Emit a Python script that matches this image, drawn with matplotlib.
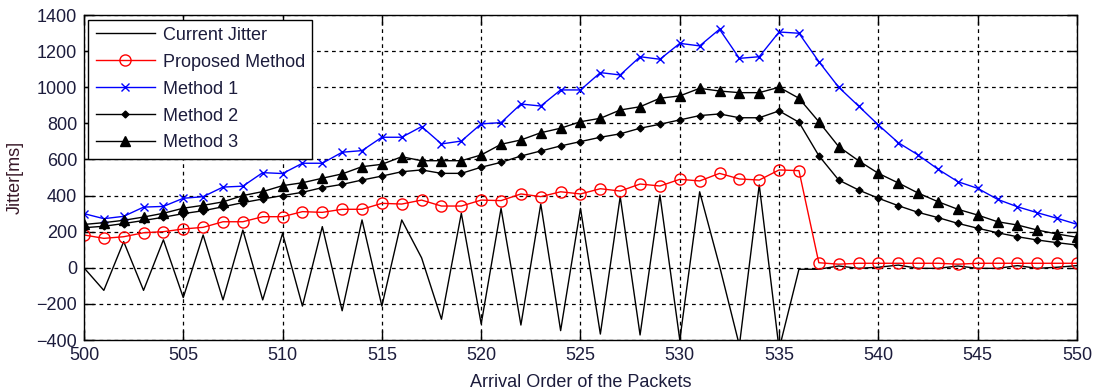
import numpy as np
import matplotlib.pyplot as plt

plt.rcParams["font.family"] = ["Liberation Sans", "DejaVu Sans"]

packets = np.arange(500, 551)

current_jitter = [0, -125, 145, -125, 155, -165, 182, -178, 209, -178,
                  190, -212, 228, -238, 265, -212, 265, 55, -285, 302,
                  -311, 329, -317, 353, -348, 329, -367, 394, -372, 403,
                  -400, 421, 10, -430, 459, -450, -8, -8, 10, -3,
                  3, 15, -3, -3, 10, -3, -3, 12, -3, 3, 12]

proposed = [182, 163, 172, 194, 200, 215, 224, 255, 255, 283,
            283, 311, 307, 324, 324, 357, 353, 375, 342, 342,
            375, 372, 409, 394, 421, 409, 438, 425, 464, 453,
            490, 481, 523, 492, 486, 542, 538, 28, 20, 25,
            25, 25, 25, 25, 20, 25, 25, 25, 25, 25, 25]

method1 = [300, 272, 285, 336, 340, 385, 394, 447, 452, 527,
           522, 579, 579, 640, 649, 723, 723, 782, 686, 702,
           797, 804, 907, 896, 985, 985, 1081, 1068, 1169, 1155,
           1243, 1229, 1321, 1160, 1169, 1306, 1299, 1142, 1000, 896,
           791, 693, 625, 546, 477, 440, 379, 338, 305, 274, 241]

method2 = [222, 230, 245, 262, 280, 300, 316, 338, 361, 381,
           400, 418, 444, 462, 486, 508, 532, 542, 523, 523,
           557, 584, 619, 647, 675, 699, 723, 742, 773, 795,
           819, 843, 852, 831, 831, 869, 806, 621, 486, 431,
           385, 344, 307, 278, 246, 219, 194, 172, 154, 139, 126]

method3 = [240, 250, 263, 281, 302, 330, 346, 365, 400, 422,
           455, 471, 496, 520, 560, 573, 615, 593, 593, 593,
           625, 684, 708, 748, 773, 809, 828, 874, 892, 939,
           952, 994, 979, 970, 970, 1000, 939, 809, 671, 593,
           523, 470, 414, 366, 324, 292, 255, 237, 209, 187, 169]

fig = plt.figure(figsize=(10.99, 3.91), dpi=100)
ax = fig.add_axes([0.0764, 0.1304, 0.9036, 0.8312])

ax.plot(packets, current_jitter, "-", color="black", lw=1, label="Current Jitter")
ax.plot(packets, proposed, "-o", color="red", lw=1, ms=8, mfc="none",
        mec="red", mew=1, label="Proposed Method")
ax.plot(packets, method1, "-x", color="blue", lw=1, ms=6, mew=1, label="Method 1")
ax.plot(packets, method2, "-D", color="black", lw=1, ms=3.5, label="Method 2")
ax.plot(packets, method3, "-^", color="black", lw=1, ms=7, label="Method 3")

ax.set_xlim(500, 550)
ax.set_ylim(-400, 1400)
ax.set_xticks(np.arange(500, 551, 5))
ax.set_yticks(np.arange(-400, 1401, 200))
ax.grid(True, color="black", ls=(0, (3, 3)), lw=0.9)
ax.tick_params(direction="in", length=7, width=1, top=True, right=True,
               labelsize=13, labelcolor="#1c1c3c", pad=5)
for s in ax.spines.values():
    s.set_linewidth(1)

ax.set_xlabel("Arrival Order of the Packets", fontsize=13, color="#1c1c3c", labelpad=7)
ax.set_ylabel("Jitter[ms]", fontsize=13, color="#3a1a2a", labelpad=9)

leg = ax.legend(loc="upper left", fontsize=13, fancybox=False, framealpha=1,
                edgecolor="black", borderaxespad=0.25, handlelength=3.3,
                handletextpad=0.4, labelspacing=0.55, borderpad=0.4)
leg.get_frame().set_linewidth(1)
for t in leg.get_texts():
    t.set_color("#1c1c3c")

fig.savefig("out.png", dpi=100)
